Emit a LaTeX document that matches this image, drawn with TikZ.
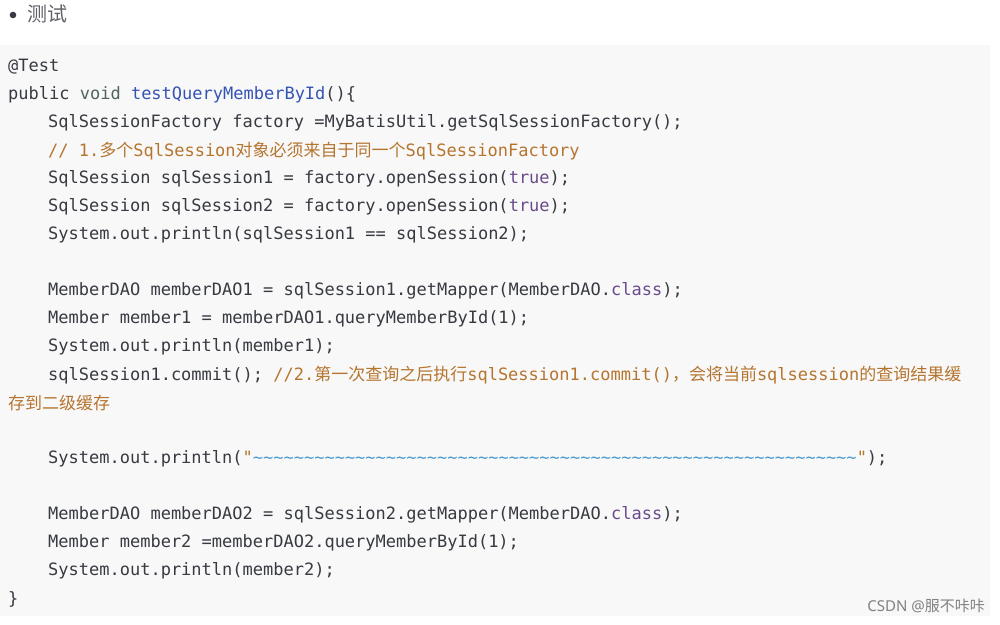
\documentclass[tikz,border=0pt]{standalone}
\usepackage{fontspec}
\setmainfont{Noto Sans}
\newfontfamily\mono{DejaVu Sans Mono}
\newfontfamily\cjk{Noto Sans CJK SC}
\definecolor{txt}{HTML}{383A42}
\definecolor{cm}{HTML}{B5752F}
\definecolor{kw}{HTML}{50655A}
\definecolor{fn}{HTML}{3454B4}
\definecolor{lit}{HTML}{6A4A8A}
\definecolor{wav}{HTML}{4A9AD0}
\definecolor{bg}{HTML}{F8F8F8}
\newcommand{\tld}{\textasciitilde}
\begin{document}
\begin{tikzpicture}[x=1pt,y=-1pt,
 code/.style={anchor=west,inner sep=0pt,font=\mono\fontsize{17}{20}\selectfont,text=txt}]
\useasboundingbox (0,0) rectangle (1000,624);
\fill[bg] (0,45) rectangle (990,616);
\fill[txt] (13,15) circle (3.3pt);
\node[anchor=west,inner sep=0pt,text=txt!80,font=\fontsize{20}{22}\selectfont] (title) at (27,14) {\cjk 测试};
\begin{scope}[yshift=-2pt]
\node[code] (l1) at (8,65) {@Test};
\node[code] (l2) at (8,93) {public {\color{kw}void} {\color{fn}testQueryMemberById}()\{};
\node[code] (l3) at (48,121) {SqlSessionFactory factory =MyBatisUtil.getSqlSessionFactory();};
\node[code,text=cm] (l4) at (48,149) {// 1.{\cjk 多个}SqlSession{\cjk 对象必须来自于同一个}SqlSessionFactory};
\node[code] (l5) at (48,177) {SqlSession sqlSession1 = factory.openSession({\color{lit}true});};
\node[code] (l6) at (48,205) {SqlSession sqlSession2 = factory.openSession({\color{lit}true});};
\node[code] (l7) at (48,233) {System.out.println(sqlSession1 == sqlSession2);};
\node[code] (l8) at (48,289) {MemberDAO memberDAO1 = sqlSession1.getMapper(MemberDAO.{\color{lit}class});};
\node[code] (l9) at (48,317) {Member member1 = memberDAO1.queryMemberById(1);};
\node[code] (l10) at (48,345) {System.out.println(member1);};
\node[code] (l11) at (48,373) {sqlSession1.commit(); {\color{cm}//2.{\cjk 第一次查询之后执行}sqlSession1.commit(){\cjk ，会将当前}sqlsession{\cjk 的查询结果缓}}};
\node[code,text=cm] (l12) at (8,401) {\cjk 存到二级缓存};
\node[code] (l13) at (48,457) {System.out.println({\color{cm}"}{\color{wav}\tld\tld\tld\tld\tld\tld\tld\tld\tld\tld\tld\tld\tld\tld\tld\tld\tld\tld\tld\tld\tld\tld\tld\tld\tld\tld\tld\tld\tld\tld\tld\tld\tld\tld\tld\tld\tld\tld\tld\tld\tld\tld\tld\tld\tld\tld\tld\tld\tld\tld\tld\tld\tld\tld\tld\tld\tld\tld\tld}{\color{cm}"});};
\node[code] (l14) at (48,513) {MemberDAO memberDAO2 = sqlSession2.getMapper(MemberDAO.{\color{lit}class});};
\node[code] (l15) at (48,541) {Member member2 =memberDAO2.queryMemberById(1);};
\node[code] (l16) at (48,569) {System.out.println(member2);};
\node[code] (l17) at (8,597) {\}};
\end{scope}
\node[anchor=east,inner sep=0pt,text=gray,font=\fontsize{15}{17}\selectfont] (wm) at (985,606) {CSDN @{\cjk 服不咔咔}};
\end{tikzpicture}
\end{document}
